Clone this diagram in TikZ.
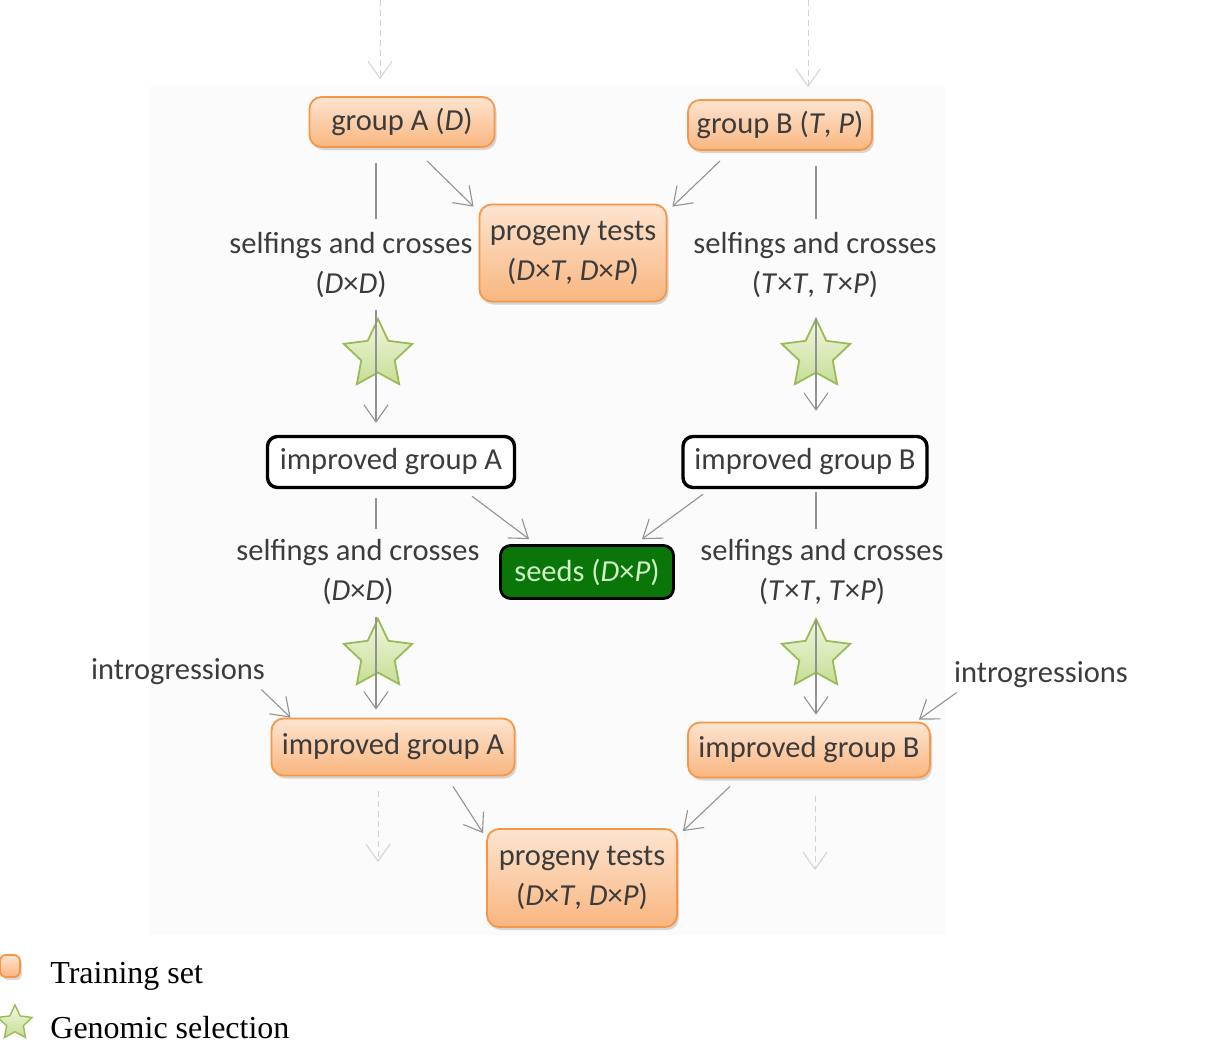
\documentclass[tikz,border=0pt]{standalone}
\usepackage{fontspec}
\setmainfont{Carlito}
\newfontfamily\legendfont{Liberation Serif}
\usepackage{tikz}
\usetikzlibrary{shapes.geometric,shadows}
\usetikzlibrary{arrows.meta,calc}

\definecolor{ortop}{HTML}{FDE4D0}
\definecolor{orbot}{HTML}{F9B680}
\definecolor{orline}{HTML}{F79646}
\definecolor{startop}{HTML}{F1F7E0}
\definecolor{starbot}{HTML}{C6DD95}
\definecolor{starline}{HTML}{9BBB59}
\definecolor{seedfill}{HTML}{0A760A}
\definecolor{seedtext}{HTML}{CFF2C6}
\definecolor{txt}{HTML}{3C3C3C}

\tikzset{
  trainbox/.style={rectangle, rounded corners=6pt, draw=orline, line width=0.9pt,
    top color=ortop, bottom color=orbot, text=txt, align=center, inner sep=2pt,
    drop shadow={opacity=0.3, shadow xshift=1pt, shadow yshift=-1.5pt}},
  impbox/.style={rectangle, rounded corners=5pt, draw=black, line width=1.7pt,
    fill=white, text=txt, inner sep=2pt},
  seedbox/.style={rectangle, rounded corners=5pt, draw=black, line width=1.4pt,
    fill=seedfill, text=seedtext, inner sep=2pt},
  gsstar/.style={star, star points=5, star point ratio=2.05, minimum size=36pt,
    inner sep=0pt, draw=starline, line width=0.9pt, top color=startop, bottom color=starbot},
  lbl/.style={text=txt, align=center, inner sep=0pt},
  lin/.style={draw=gray!85, line width=0.55pt},
  arr/.style={lin, -{Straight Barb[length=8.5pt,width=12pt]}},
  fadearr/.style={draw=gray!35, densely dashed, line width=0.5pt, -{Straight Barb[length=8.5pt,width=12pt]}}
}

\begin{document}
\begin{tikzpicture}[x=0.5pt,y=-0.5pt,font=\fontsize{15.25}{20}\selectfont]
\useasboundingbox (0,0) rectangle (1212,1046);
\fill [black!1.5] (150,85) rectangle (945,935);

% columns of the two groups
\coordinate (xA) at (376,0);
\coordinate (xB) at (816,0);

\node [trainbox, minimum width=92.5pt, minimum height=25pt] (gA) at (402,122) {group A (\textit{D})};
\node [trainbox, minimum width=92pt, minimum height=25pt] (gB) at (780,125) {group B (\textit{T}, \textit{P})};
\node [trainbox, minimum width=93.5pt, minimum height=48.5pt] (p1) at (573,253) {progeny tests\\(\textit{D}×\textit{T}, \textit{D}×\textit{P})};

\node [lbl] (s1) at (351,265) {selfings and crosses\\(\textit{D}×\textit{D})};
\node [lbl] (s2) at (815,265) {selfings and crosses\\(\textit{T}×\textit{T}, \textit{T}×\textit{P})};

\node [gsstar] (st1) at (378,355) {};
\node [gsstar] (st2) at (816,355) {};

\node [impbox, minimum width=123.5pt, minimum height=25.5pt] (iA) at (391,462) {improved group A};
\node [impbox, minimum width=122pt, minimum height=25.5pt] (iB) at (805,462) {improved group B};
\node [seedbox, minimum width=86.5pt, minimum height=26.5pt] (seeds) at (587,572) {seeds (\textit{D}×\textit{P})};

\node [lbl] (s3) at (358,572) {selfings and crosses\\(\textit{D}×\textit{D})};
\node [lbl] (s4) at (822,572) {selfings and crosses\\(\textit{T}×\textit{T}, \textit{T}×\textit{P})};

\node [gsstar] (st3) at (378,655) {};
\node [gsstar] (st4) at (816,655) {};

\node [lbl] (in1) at (178,672) {introgressions};
\node [lbl] (in2) at (1041,675) {introgressions};

\node [trainbox, minimum width=121.5pt, minimum height=28.5pt] (iA2) at (393,747) {improved group A};
\node [trainbox, minimum width=121pt, minimum height=27.5pt] (iB2) at (809,750) {improved group B};
\node [trainbox, minimum width=95pt, minimum height=49pt] (p2) at (582,878) {progeny tests\\(\textit{D}×\textit{T}, \textit{D}×\textit{P})};

% faded arrows in and out
\coordinate (topA) at (380,0);
\coordinate (topB) at (808,0);
\coordinate (botA) at (378,862);
\coordinate (botB) at (815,870);
\draw [fadearr] (topA) -- ($(gA.north -| topA)+(0,-17)$);
\draw [fadearr] (topB) -- ($(gB.north -| topB)+(0,-12)$);
\draw [fadearr] ($(iA2.south -| botA)+(0,15)$) -- (botA);
\draw [fadearr] ($(iB2.south -| botB)+(0,18)$) -- (botB);

% first cycle
\draw [lin] ($(gA.south -| xA)+(0,15)$) -- ($(s1.north -| xA)+(0,-13)$);
\draw [arr] ($(s1.south -| xA)+(0,12)$) -- ($(iA.north -| xA)+(0,-12)$);
\draw [lin] ($(gB.south -| xB)+(0,15)$) -- ($(s2.north -| xB)+(0,-13)$);
\draw [arr] ($(s2.south -| xB)+(0,20)$) -- ($(iB.north -| xB)+(0,-24)$);
\draw [arr] ($(gA.south)+(25,13)$) -- ($(p1.north west)+(-5,3)$);
\draw [arr] ($(gB.south)+(-60,10)$) -- ($(p1.north east)+(5,3)$);

% second cycle
\draw [arr] ($(iA.south)+(81,7)$) -- ($(seeds.north west)+(30,-5)$);
\draw [arr] ($(iB.south)+(-102,5)$) -- ($(seeds.north east)+(-33,-5)$);
\draw [lin] ($(iA.south -| xA)+(0,9)$) -- ($(s3.north -| xA)+(0,-10)$);
\draw [arr] ($(s3.south -| xA)+(0,12)$) -- ($(iA2.north -| xA)+(0,-8)$);
\draw [lin] ($(iB.south -| xB)+(0,3)$) -- ($(s4.north -| xB)+(0,-10)$);
\draw [arr] ($(s4.south -| xB)+(0,15)$) -- ($(iB2.north -| xB)+(0,-7)$);
\draw [arr] ($(in1.south east)+(-4,4)$) -- ($(iA2.north west)+(20,0)$);
\draw [arr] ($(in2.south west)+(3,4)$) -- ($(iB2.north east)+(-12,-2)$);
\draw [arr] ($(iA2.south)+(60,10)$) -- ($(p2.north west)+(-3,5)$);
\draw [arr] ($(iB2.south)+(-79,8)$) -- ($(p2.north east)+(5,3)$);

% key
\node [trainbox, minimum width=10pt, minimum height=11pt, rounded corners=3pt, inner sep=0pt] (keyT) at (10,966) {};
\node [anchor=base west, inner sep=0pt, font=\legendfont\fontsize{16}{19}\selectfont] (keyTtxt) at (50,983) {Training set};
\node [gsstar, minimum size=18pt, line width=0.7pt] (keyG) at (15,1023) {};
\node [anchor=base west, inner sep=0pt, font=\legendfont\fontsize{16}{19}\selectfont] (keyGtxt) at (50,1038) {Genomic selection};
\end{tikzpicture}
\end{document}
